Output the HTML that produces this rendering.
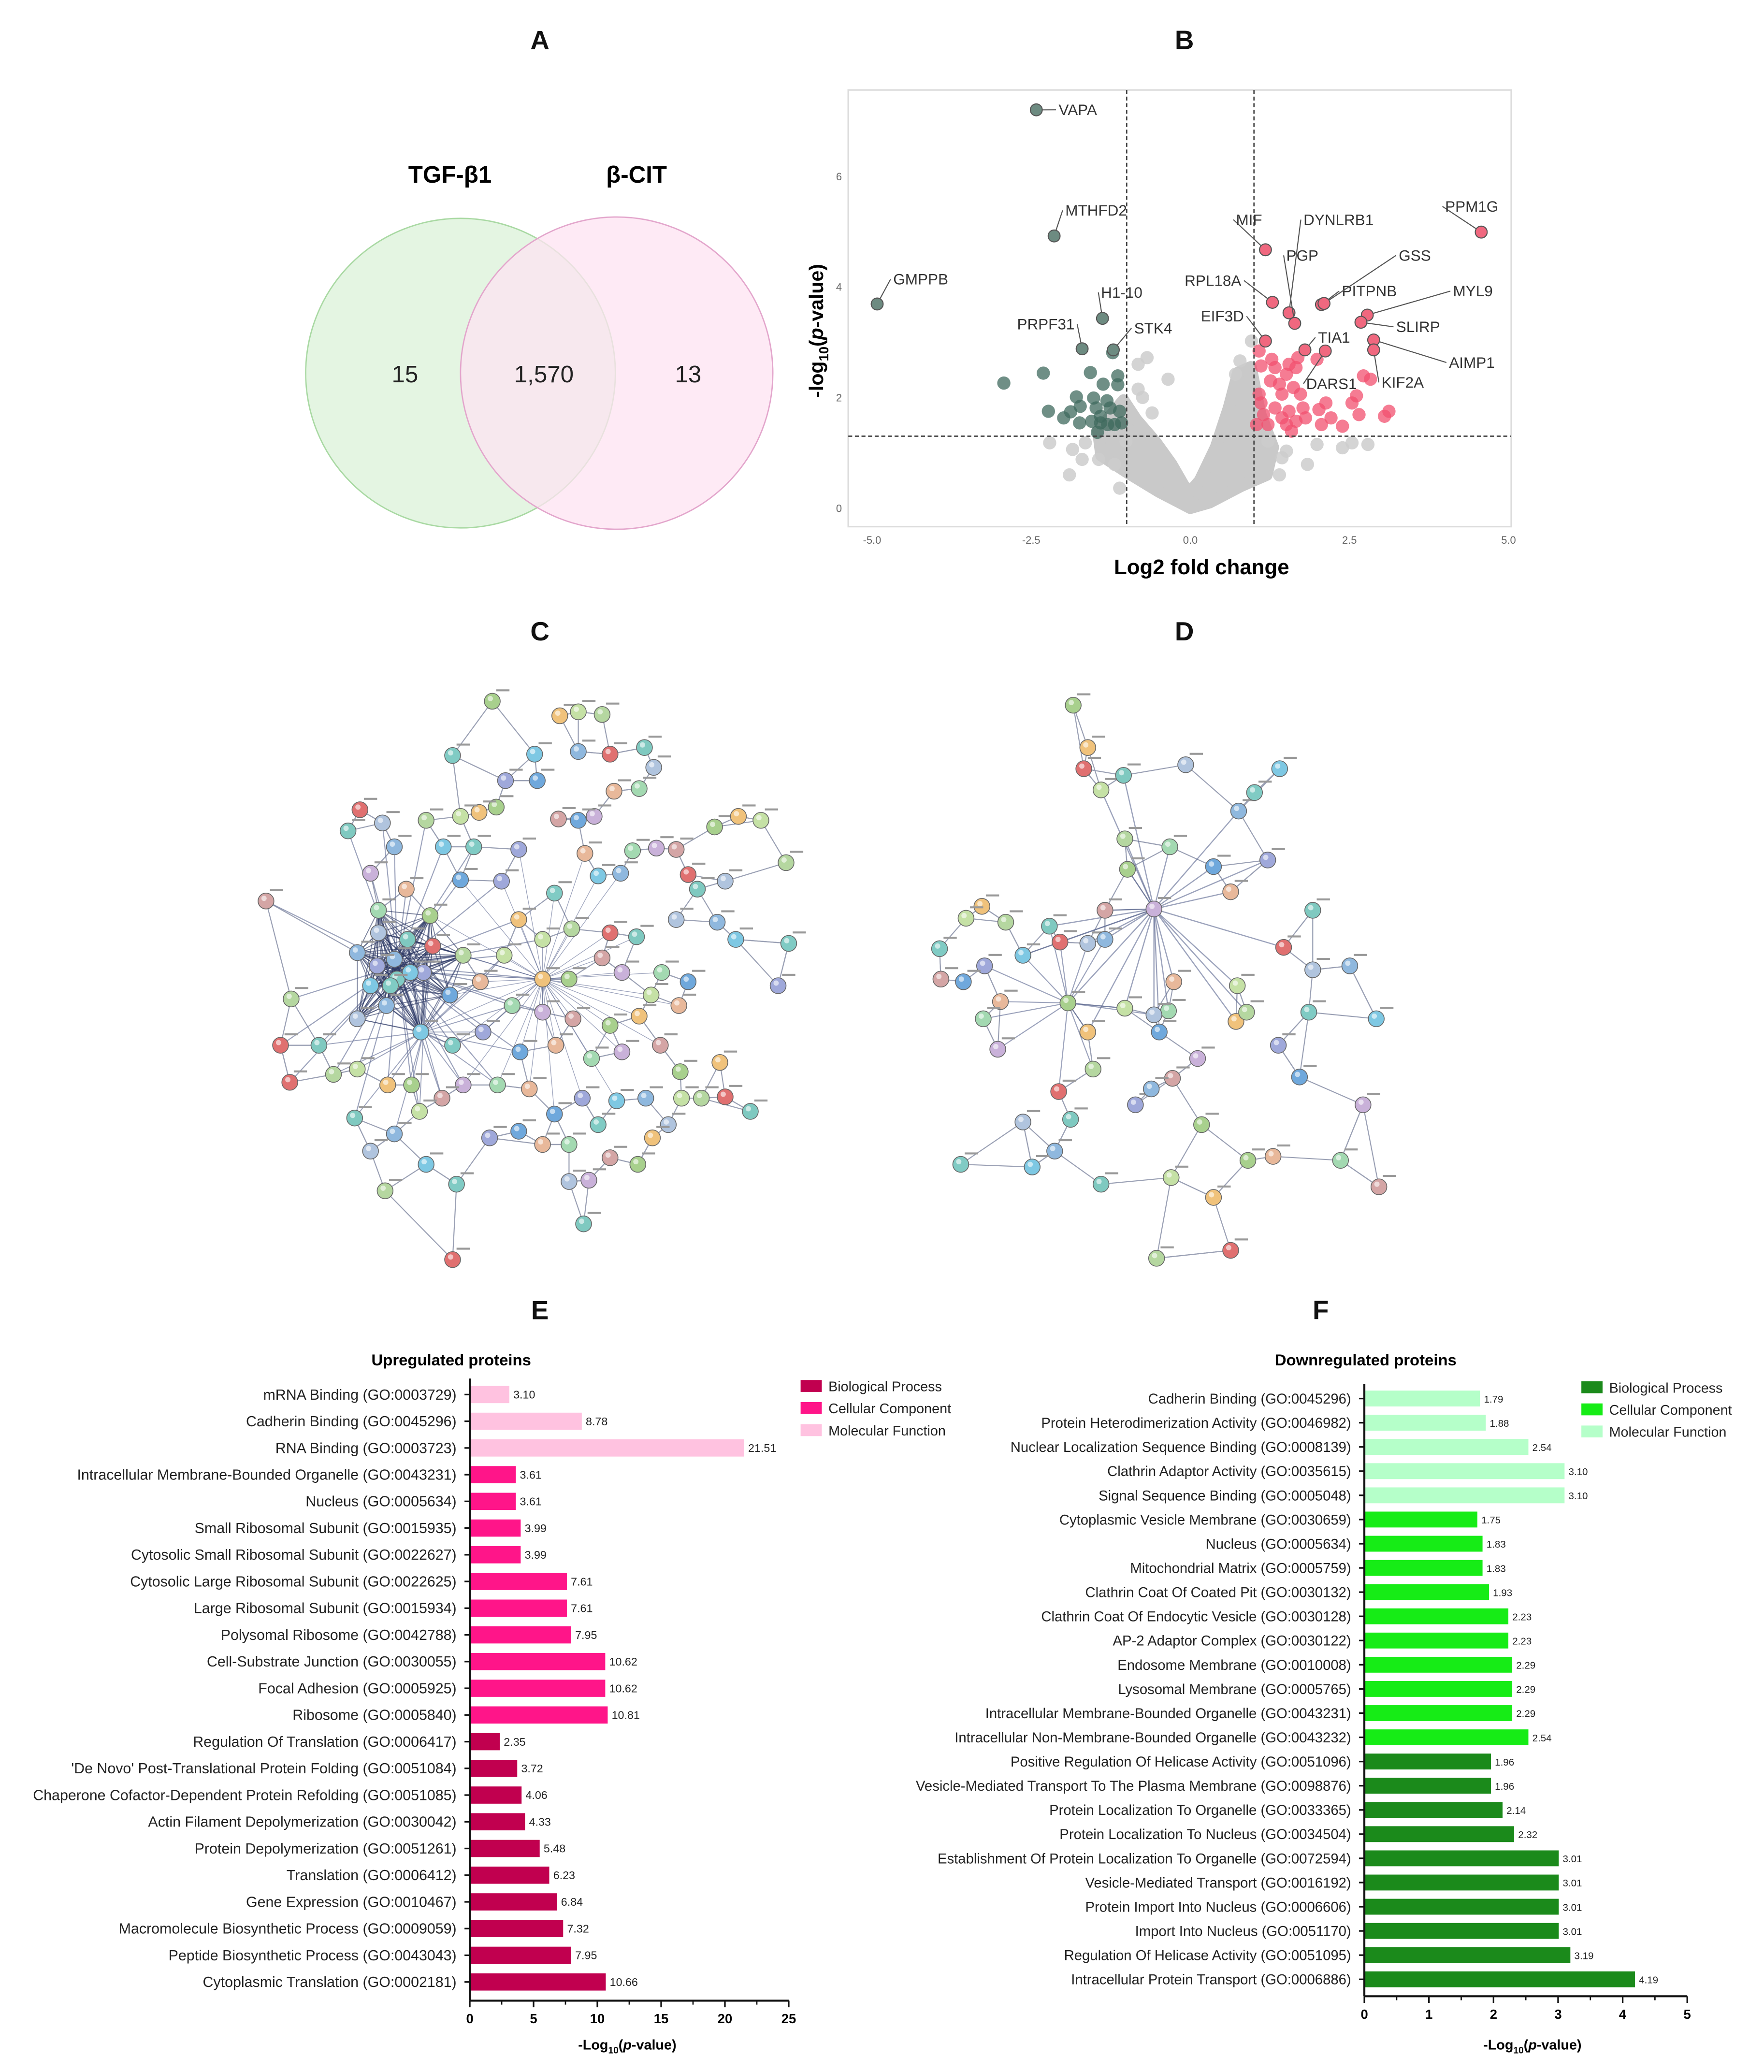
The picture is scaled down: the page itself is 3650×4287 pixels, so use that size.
<!DOCTYPE html>
<html><head><meta charset="utf-8">
<style>
html,body{margin:0;padding:0;background:#fff;}
svg{display:block;font-family:"Liberation Sans",Arial,sans-serif;}
</style></head>
<body>
<svg id="fig" width="3650" height="4287" viewBox="0 0 1333 1566" preserveAspectRatio="none" xmlns="http://www.w3.org/2000/svg">
<rect width="1333" height="1566" fill="#fff"/>
<g font-weight="bold" font-size="20" text-anchor="middle" fill="#111">
<text x="408" y="37">A</text>
<text x="895" y="37">B</text>
<text x="408" y="484">C</text>
<text x="895" y="484">D</text>
<text x="408" y="997">E</text>
<text x="998" y="997">F</text>
</g>
<g>
<circle cx="348" cy="282" r="117" fill="#e4f5e2" stroke="#a9d9a3" stroke-width="1"/>
<circle cx="466" cy="282" r="118" fill="#fde3f2" fill-opacity="0.75" stroke="#e3a6cc" stroke-width="1"/>
<text x="340" y="138" font-size="18" font-weight="bold" text-anchor="middle">TGF-β1</text>
<text x="481" y="138" font-size="18" font-weight="bold" text-anchor="middle">β-CIT</text>
<text x="306" y="289" font-size="18" text-anchor="middle" fill="#222">15</text>
<text x="411" y="289" font-size="18" text-anchor="middle" fill="#222">1,570</text>
<text x="520" y="289" font-size="18" text-anchor="middle" fill="#222">13</text>
</g>
<g id="volcano"></g>
<g id="netC"></g>
<g id="netD"></g>
<g id="barE"></g>
<g id="barF"></g>
</svg>
<script>
const NS="http://www.w3.org/2000/svg";
function mk(parent,tag,attrs,text){const e=document.createElementNS(NS,tag);for(const k in attrs)e.setAttribute(k,attrs[k]);if(text!==undefined)e.textContent=text;parent.appendChild(e);return e;}

const greenX=[-2.93,-2.31,-2.23,-1.99,-1.88,-1.79,-1.73,-1.57,-1.52,-1.48,-1.41,-1.37,-1.31,-1.26,-1.14,-1.14,-1.11,-1.08,-1.41,-1.30,-1.19,-1.46,-1.74,-1.55,-1.22];
const greenY=[2.26,2.44,1.75,1.63,1.74,2.01,1.84,2.45,1.99,1.81,1.66,2.24,1.94,1.81,2.39,2.23,1.75,1.54,1.54,1.51,1.51,1.37,1.54,1.57,2.81];
const redX=[1.08,1.11,1.28,1.33,1.40,1.44,1.51,1.55,1.62,1.66,1.69,1.73,1.77,1.55,1.44,1.33,1.22,1.15,1.11,1.08,1.04,1.66,1.81,1.99,2.02,2.06,2.13,2.21,2.39,2.54,2.61,2.65,2.72,2.83,3.05,3.12,1.59,1.26,1.51];
const redY=[2.84,2.57,2.69,2.54,2.24,2.06,2.42,2.60,2.18,2.54,2.72,2.06,1.81,1.75,1.63,1.81,1.51,1.69,1.90,2.06,1.51,1.57,1.63,2.69,1.78,1.51,1.90,1.63,1.48,1.90,2.03,1.69,2.39,2.33,1.66,1.75,1.39,2.30,1.51];
const grayX=[-2.21,-1.85,-1.70,-1.90,-1.11,-1.65,-1.44,-0.68,-0.82,-0.82,-0.75,-0.35,-0.60,-1.01,-1.19,1.99,1.84,2.39,2.54,2.79,1.44,1.40,1.51,0.96,0.78,0.71,1.22];
const grayY=[1.18,1.06,0.88,0.60,0.36,1.18,0.88,2.72,2.60,2.15,2.00,2.33,1.72,1.21,0.79,1.15,0.79,1.09,1.18,1.15,0.91,0.60,1.03,3.02,2.66,2.42,1.21];
const labelNames=["VAPA","MTHFD2","GMPPB","H1-10","PRPF31","STK4","MIF","PPM1G","RPL18A","DYNLRB1","PGP","PITPNB","GSS","MYL9","SLIRP","AIMP1","KIF2A","TIA1","DARS1","EIF3D"];
const labelX=[-2.42,-2.14,-4.92,-1.38,-1.70,-1.21,1.18,4.57,1.29,1.55,1.64,2.06,2.10,2.78,2.68,2.88,2.88,1.80,2.12,1.18];
const labelY=[7.20,4.92,3.69,3.43,2.88,2.86,4.67,4.99,3.72,3.53,3.34,3.68,3.70,3.49,3.36,3.04,2.86,2.86,2.84,3.02];
const labelIsUp=[0,0,0,0,0,0,1,1,1,1,1,1,1,1,1,1,1,1,1,1];
const xTicks=[-5.0,-2.5,0.0,2.5,5.0];
const yTicks=[0,2,4,6];
const labelTxt=[[800,87,"start"],[805,163,"start"],[675,215,"start"],[832,225,"start"],[812,249,"end"],[857,252,"start"],[934,170,"start"],[1092,160,"start"],[938,216,"end"],[985,170,"start"],[972,197,"start"],[1014,224,"start"],[1057,197,"start"],[1098,224,"start"],[1055,251,"start"],[1095,278,"start"],[1044,293,"start"],[996,259,"start"],[987,294,"start"],[940,243,"end"]];

(function(){
 const g=document.getElementById('volcano');
 const X=v=>899.5+v*48.1, Y=v=>384-v*41.8;
 const frame=mk(g,'rect',{x:641,y:68,width:501,height:330,fill:'none',stroke:'#dcdcdc','stroke-width':1.2});
 
 xTicks.forEach(t=>{const e=mk(g,'text',{x:X(t),y:411,'font-size':8,'text-anchor':'middle',fill:'#666'},t.toFixed(1));
  });
 yTicks.forEach(t=>{const e=mk(g,'text',{x:634,y:Y(t)+3,'font-size':8,'text-anchor':'middle',fill:'#666'},String(t));
  });
 const cloud=[[0,0],[-0.5,0.3],[-1.0,0.65],[-1.4,0.95],[-1.45,1.4],[-1.05,1.95],[-0.85,1.6],[-0.55,1.2],[-0.3,0.8],[-0.1,0.4],[0,0.3],[0.15,0.5],[0.4,1.1],[0.6,1.8],[0.75,2.45],[0.95,2.55],[1.1,1.7],[1.3,1.1],[1.2,0.6],[0.8,0.4],[0.3,0.1]];
 const cp=mk(g,'polygon',{points:cloud.map(p=>X(p[0])+','+Y(p[1])).join(' '),fill:'#c9c9c9',stroke:'#c9c9c9','stroke-width':9,'stroke-linejoin':'round'});
 
 grayX.forEach((v,i)=>{const c=mk(g,'circle',{cx:X(v),cy:Y(grayY[i]),r:5,fill:'#cdcdcd','fill-opacity':0.85});
  });
 greenX.forEach((v,i)=>{const c=mk(g,'circle',{cx:X(v),cy:Y(greenY[i]),r:5,fill:'#3f6a5d','fill-opacity':0.75});
  });
 redX.forEach((v,i)=>{const c=mk(g,'circle',{cx:X(v),cy:Y(redY[i]),r:5,fill:'#f2506f','fill-opacity':0.75});
  });
 [[X(-1),68,X(-1),398],[X(1),68,X(1),398],[641,Y(1.3),1142,Y(1.3)]].forEach(l=>{
  const e=mk(g,'line',{x1:l[0],y1:l[1],x2:l[2],y2:l[3],stroke:'#444','stroke-width':1,'stroke-dasharray':'3,2'});
  });
 labelNames.forEach((n,i)=>{
  const px=X(labelX[i]),py=Y(labelY[i]);const t=labelTxt[i];
  const lx=t[2]==='end'?t[0]+2:t[0]-2;
  const ln=mk(g,'line',{x1:px,y1:py,x2:lx,y2:t[1]-4,stroke:'#555','stroke-width':0.8});
  
  const c=mk(g,'circle',{cx:px,cy:py,r:4.5,fill:labelIsUp[i]?'#f0687f':'#6d8b81',stroke:'#555','stroke-width':0.8});
  
  const tx=mk(g,'text',{x:t[0],y:t[1],'font-size':11.5,'text-anchor':t[2],fill:'#333'},n);
  
 });
 const xt=mk(g,'text',{x:908,y:434,'font-size':16,'font-weight':'bold','text-anchor':'middle'},'Log2 fold change');
 
 const yt=mk(g,'text',{x:0,y:0,'font-size':15,'font-weight':'bold','text-anchor':'middle',transform:'translate(622,250) rotate(-90)'});
 
 yt.innerHTML='-log<tspan font-size="10" dy="4">10</tspan><tspan dy="-4">(</tspan><tspan font-style="italic">p</tspan>-value)';
})();

const nodesC=[[372,530],[423,541],[437,538],[455,540],[461,570],[487,565],[494,580],[437,568],[404,570],[342,571],[382,590],[406,590],[464,598],[483,596],[449,617],[422,619],[375,610],[362,614],[348,617],[322,620],[272,612],[263,628],[289,622],[298,640],[335,640],[358,640],[392,642],[437,620],[442,645],[478,643],[496,641],[511,642],[540,625],[558,617],[575,620],[594,652],[520,661],[527,672],[548,666],[469,660],[452,662],[419,675],[379,666],[348,665],[307,672],[286,688],[280,660],[201,681],[325,692],[392,695],[410,710],[432,702],[461,705],[481,708],[511,695],[542,697],[556,710],[596,713],[588,745],[520,742],[513,760],[500,735],[470,735],[455,724],[430,740],[410,740],[381,722],[350,722],[327,715],[308,710],[286,705],[270,720],[280,745],[300,740],[320,735],[340,752],[363,742],[387,760],[410,765],[433,770],[461,775],[483,768],[492,752],[220,755],[212,790],[241,790],[270,770],[292,760],[318,780],[342,790],[365,780],[393,795],[420,790],[447,800],[470,795],[499,790],[514,810],[544,803],[515,830],[530,830],[548,829],[567,840],[505,850],[488,830],[466,832],[452,850],[440,830],[419,842],[400,823],[376,820],[350,820],[334,830],[311,820],[293,820],[270,808],[252,812],[219,818],[268,845],[280,870],[298,857],[322,880],[345,895],[370,860],[392,855],[410,865],[430,865],[445,892],[461,875],[482,880],[493,860],[317,840],[291,900],[342,952],[441,925],[430,893],[298,725],[310,735],[295,745],[285,730]];
const nodesD=[[811,533],[822,565],[832,597],[850,634],[819,581],[849,586],[896,578],[936,613],[967,581],[948,599],[958,650],[917,655],[930,674],[884,640],[872,687],[835,688],[852,657],[742,685],[730,694],[760,697],[801,712],[793,700],[822,713],[835,710],[773,722],[710,717],[744,730],[728,742],[756,757],[743,770],[754,793],[711,740],[807,758],[822,780],[850,762],[826,808],[800,825],[809,846],[773,848],[797,870],[780,882],[726,880],[858,835],[876,780],[887,742],[883,764],[905,800],[886,815],[908,850],[934,772],[935,745],[942,765],[970,716],[992,688],[992,733],[1020,730],[1040,770],[989,765],[966,790],[982,814],[962,874],[1013,877],[1030,835],[1042,897],[943,877],[917,905],[885,890],[874,951],[930,945],[832,895],[872,767],[870,823]];
const palette=['#a8d08d','#8fb8de','#c9b1d9','#7fc9c0','#e8b89a','#b5d7a0','#9fa8da','#f0c27b','#7ec8e3','#d4a5a5','#b0c4de','#a3d9b1','#e07070','#6fa8dc','#c5e1a5','#80cbc4'];
function drawNet(id,nodes,hubs,dense){
 const g=document.getElementById(id);
 const eg=mk(g,'g',{});
 
 const d2=(a,b)=>(a[0]-b[0])**2+(a[1]-b[1])**2;
 nodes.forEach((n,i)=>{
  const near=nodes.map((m,j)=>[d2(n,m),j]).filter(p=>p[1]!==i).sort((a,b)=>a[0]-b[0]).slice(0,2);
  near.forEach(p=>mk(eg,'line',{x1:n[0],y1:n[1],x2:nodes[p[1]][0],y2:nodes[p[1]][1],stroke:'#9aa0b4','stroke-width':0.8}));
 });
 hubs.forEach(h=>{nodes.forEach(n=>{const dd=d2(h,n);if(dd<h[2]*h[2]&&dd>4)mk(eg,'line',{x1:h[0],y1:h[1],x2:n[0],y2:n[1],stroke:'#5a6590','stroke-width':h[3],'stroke-opacity':0.6});});});
 if(dense){nodes.forEach((a,i)=>{if(d2(a,dense)<55*55)nodes.forEach((b,j)=>{if(j>i&&d2(b,dense)<55*55)mk(eg,'line',{x1:a[0],y1:a[1],x2:b[0],y2:b[1],stroke:'#2a3560','stroke-width':0.7,'stroke-opacity':0.6});});});}
 nodes.forEach((n,i)=>{
  const c=mk(g,'circle',{cx:n[0],cy:n[1],r:6,fill:palette[(i*7)%palette.length],stroke:'#666','stroke-width':0.6});
  
  mk(g,'circle',{cx:n[0]-1.5,cy:n[1]-2,r:2,fill:'#fff','fill-opacity':0.6});
  mk(g,'rect',{x:n[0]+3,y:n[1]-9,width:10,height:1.5,fill:'#999'});
 });
}
drawNet('netC',nodesC,[[300,730,120,0.8],[410,740,110,0.5],[320,780,90,0.7]],[300,730]);
drawNet('netD',nodesD,[[872,687,110,0.9],[807,758,70,0.8]],null);

const catsE=["mRNA Binding (GO:0003729)","Cadherin Binding (GO:0045296)","RNA Binding (GO:0003723)","Intracellular Membrane-Bounded Organelle (GO:0043231)","Nucleus (GO:0005634)","Small Ribosomal Subunit (GO:0015935)","Cytosolic Small Ribosomal Subunit (GO:0022627)","Cytosolic Large Ribosomal Subunit (GO:0022625)","Large Ribosomal Subunit (GO:0015934)","Polysomal Ribosome (GO:0042788)","Cell-Substrate Junction (GO:0030055)","Focal Adhesion (GO:0005925)","Ribosome (GO:0005840)","Regulation Of Translation (GO:0006417)","'De Novo' Post-Translational Protein Folding (GO:0051084)","Chaperone Cofactor-Dependent Protein Refolding (GO:0051085)","Actin Filament Depolymerization (GO:0030042)","Protein Depolymerization (GO:0051261)","Translation (GO:0006412)","Gene Expression (GO:0010467)","Macromolecule Biosynthetic Process (GO:0009059)","Peptide Biosynthetic Process (GO:0043043)","Cytoplasmic Translation (GO:0002181)"];
const valsE=[3.10,8.78,21.51,3.61,3.61,3.99,3.99,7.61,7.61,7.95,10.62,10.62,10.81,2.35,3.72,4.06,4.33,5.48,6.23,6.84,7.32,7.95,10.66];
const groupsE=["MF","MF","MF","CC","CC","CC","CC","CC","CC","CC","CC","CC","CC","BP","BP","BP","BP","BP","BP","BP","BP","BP","BP"];
const ticksE=[0,5,10,15,20,25];
const catsF=["Cadherin Binding (GO:0045296)","Protein Heterodimerization Activity (GO:0046982)","Nuclear Localization Sequence Binding (GO:0008139)","Clathrin Adaptor Activity (GO:0035615)","Signal Sequence Binding (GO:0005048)","Cytoplasmic Vesicle Membrane (GO:0030659)","Nucleus (GO:0005634)","Mitochondrial Matrix (GO:0005759)","Clathrin Coat Of Coated Pit (GO:0030132)","Clathrin Coat Of Endocytic Vesicle (GO:0030128)","AP-2 Adaptor Complex (GO:0030122)","Endosome Membrane (GO:0010008)","Lysosomal Membrane (GO:0005765)","Intracellular Membrane-Bounded Organelle (GO:0043231)","Intracellular Non-Membrane-Bounded Organelle (GO:0043232)","Positive Regulation Of Helicase Activity (GO:0051096)","Vesicle-Mediated Transport To The Plasma Membrane (GO:0098876)","Protein Localization To Organelle (GO:0033365)","Protein Localization To Nucleus (GO:0034504)","Establishment Of Protein Localization To Organelle (GO:0072594)","Vesicle-Mediated Transport (GO:0016192)","Protein Import Into Nucleus (GO:0006606)","Import Into Nucleus (GO:0051170)","Regulation Of Helicase Activity (GO:0051095)","Intracellular Protein Transport (GO:0006886)"];
const valsF=[1.79,1.88,2.54,3.10,3.10,1.75,1.83,1.83,1.93,2.23,2.23,2.29,2.29,2.29,2.54,1.96,1.96,2.14,2.32,3.01,3.01,3.01,3.01,3.19,4.19];
const groupsF=["MF","MF","MF","MF","MF","CC","CC","CC","CC","CC","CC","CC","CC","CC","CC","BP","BP","BP","BP","BP","BP","BP","BP","BP","BP"];
const ticksF=[0,1,2,3,4,5];

function barChart(id,o){
 const g=document.getElementById(id);
 const X=v=>o.x0+v*o.k;
 const n=o.cats.length;
 const Yr=i=>o.y0+i*o.step;
 const t=mk(g,'text',{x:o.titleX,y:1032,'font-size':12,'font-weight':'bold','text-anchor':'middle'},o.title);
 
 o.cats.forEach((c,i)=>{
  const y=Yr(i);
  const r=mk(g,'rect',{x:X(0),y:y-o.bh/2,width:X(o.vals[i])-X(0),height:o.bh,fill:o.colors[o.groups[i]]});
  
  const l=mk(g,'text',{x:X(0)-10,y:y+3.8,'font-size':o.fs,'text-anchor':'end',fill:'#222'},c);
  
  const tk=mk(g,'line',{x1:X(0)-4,y1:y,x2:X(0),y2:y,stroke:'#111','stroke-width':1.2});
  
  const v=mk(g,'text',{x:X(o.vals[i])+3,y:y+3,'font-size':o.vfs,fill:'#222'},o.vals[i].toFixed(2));
  
 });
 const yb=Yr(n-1)+o.step*0.7;
 const ya=mk(g,'line',{x1:X(0),y1:Yr(0)-o.step*0.6,x2:X(0),y2:yb,stroke:'#111','stroke-width':1.5});
 
 const xa=mk(g,'line',{x1:X(0),y1:yb,x2:X(o.ticks[o.ticks.length-1]),y2:yb,stroke:'#111','stroke-width':1.5});
 
 o.ticks.forEach((tv,i)=>{
  const tl=mk(g,'line',{x1:X(tv),y1:yb,x2:X(tv),y2:yb+5,stroke:'#111','stroke-width':1.2});
  
  if(i<o.ticks.length-1){const m=mk(g,'line',{x1:(X(tv)+X(o.ticks[i+1]))/2,y1:yb,x2:(X(tv)+X(o.ticks[i+1]))/2,y2:yb+3,stroke:'#111','stroke-width':1});
   }
  const tt=mk(g,'text',{x:X(tv),y:yb+17,'font-size':10,'font-weight':'bold','text-anchor':'middle'},String(tv));
  
 });
 const xt=mk(g,'text',{x:o.axTitleX,y:1549,'font-size':10.5,'font-weight':'bold','text-anchor':'middle'});
 
 xt.innerHTML='-Log<tspan font-size="7" dy="3">10</tspan><tspan dy="-3">(</tspan><tspan font-style="italic">p</tspan>-value)';
 [['BP','Biological Process'],['CC','Cellular Component'],['MF','Molecular Function']].forEach((e,i)=>{
  const y=o.legY+i*16.7;
  const s=mk(g,'rect',{x:o.legX,y:y-5,width:16,height:9,fill:o.colors[e[0]]});
  
  const lt=mk(g,'text',{x:o.legX+21,y:y+3.5,'font-size':10.5,fill:'#222'},e[1]);
  
 });
}
barChart('barE',{cats:catsE,vals:valsE,groups:groupsE,ticks:ticksE,x0:355,k:9.64,y0:1054,step:20.18,bh:13,fs:11.1,vfs:8.5,
 colors:{MF:'#ffc2e0',CC:'#ff1589',BP:'#c1004f'},title:'Upregulated proteins',titleX:341,axTitleX:474,legX:605,legY:1048});
barChart('barF',{cats:catsF,vals:valsF,groups:groupsF,ticks:ticksF,x0:1031,k:48.8,y0:1057,step:18.29,bh:12,fs:10.7,vfs:7.5,
 colors:{MF:'#b5ffc9',CC:'#16ec16',BP:'#1b8a1b'},title:'Downregulated proteins',titleX:1032,axTitleX:1158,legX:1195,legY:1049});
</script>
</body></html>
